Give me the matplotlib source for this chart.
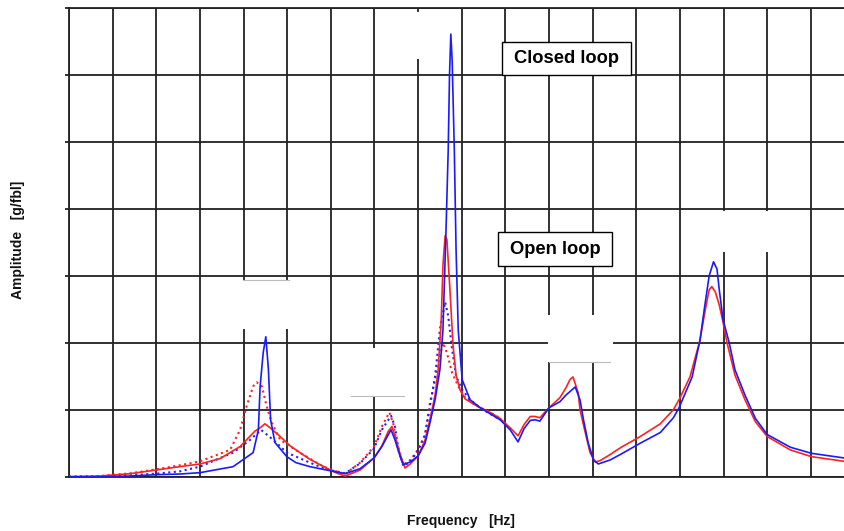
import matplotlib
matplotlib.use("Agg")
import matplotlib.pyplot as plt
from matplotlib.patches import Rectangle
from matplotlib.lines import Line2D

# figure size in pixels (dpi 100)
W, H = 844, 531

# -- data (frequency in grid units x10, amplitude in grid units) --
f_red = [0, 7.1, 14.0, 20.0, 25.4, 30.0, 34.6, 39.2, 42.6, 43.8, 44.9, 46.1, 48.4, 50.7, 52.9,
         55.2, 57.5, 59.8, 61.5, 63.3, 66.7, 69.9, 71.7, 73.1, 74.0, 74.7, 75.9, 77.0, 78.2, 80.0,
         81.6, 82.7, 83.9, 84.6, 85.3, 85.7, 86.2, 86.6, 87.3, 88.0, 88.7, 89.6, 90.8, 93.1, 96.5,
         98.8, 101.1, 102.9, 104.3, 105.7, 106.8, 107.9, 110.0, 112.5, 113.9, 114.8, 115.5, 116.7,
         117.1, 118.3, 119.4, 120.6, 121.7, 124.0, 126.3, 130.9, 135.5, 138.5, 139.8, 142.3, 144.6,
         145.8, 146.7, 147.3, 148.1, 149.0, 149.9, 150.8, 152.6, 154.9, 157.3, 160.0, 165.3, 170.1,
         177.6]
a_red = [0, 0.01, 0.045, 0.10, 0.15, 0.19, 0.27, 0.45, 0.68, 0.73, 0.79, 0.73, 0.60, 0.46, 0.36,
         0.26, 0.18, 0.10, 0.05, 0.01, 0.10, 0.28, 0.46, 0.67, 0.75, 0.61, 0.33, 0.13, 0.19, 0.31,
         0.55, 0.85, 1.22, 1.60, 2.34, 3.16, 3.60, 3.54, 2.79, 1.97, 1.52, 1.30, 1.16, 1.07, 0.96,
         0.87, 0.73, 0.61, 0.78, 0.90, 0.90, 0.88, 1.03, 1.18, 1.33, 1.45, 1.49, 1.25,
         1.00, 0.66, 0.36, 0.22, 0.24, 0.33, 0.43, 0.60, 0.79, 1.00, 1.15, 1.49, 2.04,
         2.49, 2.79, 2.84, 2.76, 2.57, 2.30, 2.00, 1.52, 1.15, 0.82, 0.60, 0.40, 0.30,
         0.23]

f_blue = [0, 7.1, 14.0, 20.0, 25.4, 30.0, 37.6, 42.2, 43.4, 43.8, 44.5, 45.1, 45.7, 46.2, 47.2,
          49.9, 52.0, 55.2, 57.5, 59.8, 63.3, 66.7, 69.9, 71.7, 73.1, 73.8, 74.7, 75.9, 76.6, 78.2,
          80.0, 81.6, 82.7, 83.9, 85.0, 85.7, 86.4, 86.9, 87.2, 87.5, 87.8, 88.3, 88.7, 89.2, 90.1,
          91.9, 94.2, 96.5, 98.8, 101.1, 102.9, 104.3, 105.7, 106.8, 107.9, 110.0, 112.5, 113.9,
          116.0, 117.1, 117.9, 119.0, 120.2, 121.3, 124.0, 126.3, 130.9, 135.5, 138.5, 139.8, 142.8,
          144.6, 145.8, 146.7, 147.7, 148.5, 149.0, 149.9, 151.3, 152.6, 154.9, 157.3, 160.0, 165.3,
          170.1, 177.6]
a_blue = [0, 0.0, 0.01, 0.03, 0.04, 0.06, 0.15, 0.36, 0.70, 1.35, 1.85, 2.09, 1.60, 0.85, 0.51,
          0.30, 0.21, 0.15, 0.12, 0.09, 0.045, 0.12, 0.28, 0.45, 0.62, 0.70, 0.55, 0.30, 0.18, 0.22,
          0.31, 0.50, 0.80, 1.15, 1.60, 2.20, 3.69, 4.88, 6.00, 6.61, 6.22, 4.88, 3.39, 2.19, 1.45,
          1.15, 1.03, 0.94, 0.85, 0.70, 0.52, 0.72, 0.84, 0.85, 0.83, 1.03, 1.12, 1.22,
          1.34, 1.15, 0.85, 0.50, 0.25, 0.19, 0.25, 0.33, 0.50, 0.66, 0.88, 1.03, 1.49,
          2.04, 2.60, 3.00, 3.21, 3.10, 2.80, 2.34, 2.00, 1.60, 1.22, 0.87, 0.63, 0.44,
          0.35, 0.28]

f_red_d = [0, 7.1, 14.0, 20.0, 25.4, 30.0, 36.9, 39.2, 40.7, 42.2, 43.0, 44.2, 45.3, 46.5, 48.4,
           52.9, 57.5, 59.8, 63.3, 66.7, 69.9, 71.7, 73.4, 74.3, 75.2, 76.6, 78.2, 80.0, 81.6, 82.7,
           83.9, 84.8, 85.7, 86.6, 87.8, 89.2, 90.8, 93.1, 96.5, 98.8]
a_red_d = [0, 0.01, 0.05, 0.11, 0.17, 0.23, 0.40, 0.70, 1.05, 1.35, 1.41, 1.35, 1.05, 0.80, 0.55,
           0.36, 0.18, 0.11, 0.04, 0.21, 0.45, 0.75, 0.96, 0.80, 0.45, 0.18, 0.25, 0.40, 0.63, 1.10,
           1.45, 1.75, 2.00, 1.85, 1.55, 1.35, 1.18, 1.07, 0.96, 0.87]

f_blue_d = [0, 7.1, 14.0, 20.0, 25.4, 30.0, 37.6, 41.5, 44.0, 46.8, 49.9, 55.2, 57.5, 59.8, 63.3,
            66.7, 69.9, 71.7, 73.8, 74.7, 75.4, 76.6, 78.2, 80.0, 81.6, 82.7, 83.9, 85.0, 86.2,
            86.9, 87.8, 88.7, 90.1, 91.9, 94.2, 96.5, 98.8]
a_blue_d = [0, 0.0, 0.02, 0.045, 0.08, 0.15, 0.36, 0.55, 0.70, 0.55, 0.36, 0.21, 0.15, 0.10, 0.05,
            0.20, 0.42, 0.70, 0.91, 0.75, 0.45, 0.16, 0.22, 0.40, 0.62, 1.05, 1.50, 2.20, 2.61,
            2.40, 1.90, 1.50, 1.30, 1.15, 1.03, 0.94, 0.85]

x_grid = list(range(0, 180, 10))
y_grid = list(range(0, 8))

x_max = 177.6
y_max = 7


def fx(px):
    return px / W


def fy(py):
    return 1 - py / H


fig = plt.figure(figsize=(W / 100, H / 100), dpi=100)
ax = fig.add_axes([fx(69), fy(476.7), fx(844) - fx(69), fy(8) - fy(476.7)])

ax.set_xlim(0, x_max)
ax.set_ylim(0, y_max)
ax.set_xticks(x_grid)
ax.set_yticks(y_grid)
ax.tick_params(axis='x', length=0, labelbottom=False)
ax.tick_params(axis='y', direction='out', length=3, width=1.3, color='#222222', labelleft=False)
ax.grid(True, color='#222222', linewidth=1.3)
ax.set_axisbelow(True)
for side in ['left', 'top', 'bottom']:
    ax.spines[side].set_color('#222222')
    ax.spines[side].set_linewidth(1.3)
ax.spines['right'].set_visible(False)

# white patches that blank parts of the grid (as in the reference)
blanks = [(241, 280, 291, 329), (350, 348, 405, 396), (548, 315, 613, 362),
          (690, 211, 795, 252), (395, 12, 440, 59)]
for x0, y0, x1, y1 in blanks:
    ax.add_patch(Rectangle((fx(x0), fy(y1)), fx(x1) - fx(x0), fy(y0) - fy(y1),
                           transform=fig.transFigure, facecolor='white', edgecolor='none',
                           zorder=1.5))
# faint grey edges of the blanks
for x0, x1, yy in [(243, 289, 279.5), (351, 404, 396), (549, 610, 362)]:
    ax.add_line(Line2D([fx(x0), fx(x1)], [fy(yy), fy(yy)], transform=fig.transFigure,
                       color='#bbbbbb', linewidth=0.8, zorder=1.6))

# curves
ax.plot(f_red_d, a_red_d, color='#ff2020', linestyle=':', linewidth=1.5, zorder=2)
ax.plot(f_blue_d, a_blue_d, color='#2020ff', linestyle=':', linewidth=1.5, zorder=2)
ax.plot(f_red, a_red, color='#ff2020', linewidth=1.2, zorder=3)
ax.plot(f_blue, a_blue, color='#1a1aff', linewidth=1.2, zorder=4)

# labelled boxes
for label, (x0, y0, x1, y1) in [("Closed loop", (502, 42, 631, 75)),
                                ("Open loop", (498, 232, 612, 266))]:
    fig.add_artist(Rectangle((fx(x0), fy(y1)), fx(x1) - fx(x0), fy(y0) - fy(y1),
                             transform=fig.transFigure, facecolor='white',
                             edgecolor='black', linewidth=1.0, zorder=5))
    fig.text(fx((x0 + x1) / 2), fy((y0 + y1) / 2), label, ha='center', va='center',
             fontsize=13.2, fontweight='bold', family=['Liberation Sans', 'DejaVu Sans'],
             zorder=6)

label_font = ['Liberation Sans Narrow', 'Liberation Sans', 'DejaVu Sans']
fig.text(fx(461), fy(521), "Frequency   [Hz]", ha='center', va='center',
         fontsize=10, fontweight='bold', family=label_font, color='#111111')
fig.text(fx(18), fy(240), "Amplitude   [g/fbl]", ha='center', va='center', rotation=90,
         fontsize=10, fontweight='bold', family=label_font, color='#111111')

fig.savefig("out.png", dpi=100)
